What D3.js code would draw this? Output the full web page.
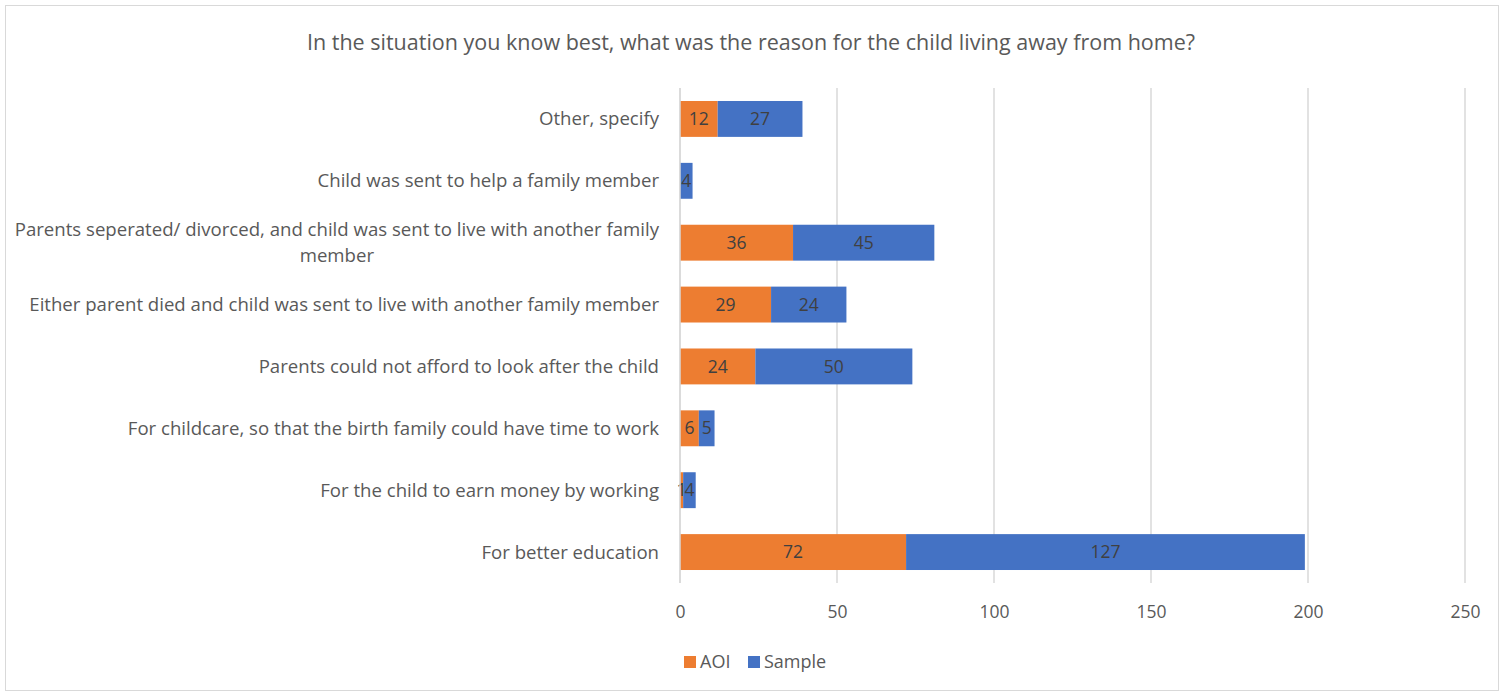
<!DOCTYPE html>
<html>
<head>
<meta charset="utf-8">
<script src="https://cdn.jsdelivr.net/npm/d3@7"></script>
<style>
  html, body { margin: 0; padding: 0; background: #fff; }
  svg { display: block; }
  text { font-family: "Open Sans", "Noto Sans", sans-serif; }
</style>
</head>
<body>
<svg id="chart" width="1504" height="696"></svg>
<script>
const title = "In the situation you know best, what was the reason for the child living away from home?";
const categories = [
  "Other, specify",
  "Child was sent to help a family member",
  "Parents seperated/ divorced, and child was sent to live with another family member",
  "Either parent died and child was sent to live with another family member",
  "Parents could not afford to look after the child",
  "For childcare, so that the birth family could have time to work",
  "For the child to earn money by working",
  "For better education"
];
const aoi =    [12, 0, 36, 29, 24, 6, 1, 72];
const sample = [27, 4, 45, 24, 50, 5, 4, 127];
const seriesNames = ["AOI", "Sample"];
const seriesColors = ["#ED7D31", "#4472C4"];
const xTicks = [0, 50, 100, 150, 200, 250];

const W = 1504, H = 696;
const margin = { left: 680, right: 39, top: 88, bottom: 113 };
const svg = d3.select("#chart");

// chart frame
svg.append("rect").attr("x", 5.5).attr("y", 5.5).attr("width", W - 11).attr("height", H - 11)
  .attr("fill", "#fff").attr("stroke", "#d9d9d9").attr("stroke-width", 1);

const x = d3.scaleLinear().domain([0, 250]).range([margin.left, W - margin.right]);
const y = d3.scaleBand().domain(categories).range([margin.top, H - margin.bottom]).paddingInner(0.42).paddingOuter(0.21);

// vertical gridlines
svg.append("g").selectAll("line").data(xTicks).join("line")
  .attr("x1", d => x(d)).attr("x2", d => x(d))
  .attr("y1", margin.top).attr("y2", H - margin.bottom)
  .attr("stroke", "#d9d9d9").attr("stroke-width", 1.5);

// x axis tick labels
const xAxis = d3.axisBottom(x).tickValues(xTicks).tickSize(0).tickPadding(0);
const gx = svg.append("g").attr("transform", `translate(0,${H - margin.bottom + 29})`).call(xAxis);
gx.select(".domain").remove();
gx.selectAll("text").attr("font-size", 17.5).attr("fill", "#595959").attr("dy", "0.35em");

// stacked data
const rows = categories.map((c, i) => ({ category: c, AOI: aoi[i], Sample: sample[i] }));
const stack = d3.stack().keys(seriesNames)(rows);

const gBars = svg.append("g");
stack.forEach((layer, si) => {
  const g = gBars.append("g");
  g.selectAll("rect").data(layer.filter(d => d[1] > d[0])).join("rect")
    .attr("x", d => x(d[0])).attr("width", d => x(d[1]) - x(d[0]))
    .attr("y", d => y(d.data.category)).attr("height", y.bandwidth())
    .attr("fill", seriesColors[si]);
  g.selectAll("text").data(layer.filter(d => d[1] > d[0])).join("text")
    .attr("x", d => (x(d[0]) + x(d[1])) / 2)
    .attr("y", d => y(d.data.category) + y.bandwidth() / 2)
    .attr("dy", "0.35em").attr("text-anchor", "middle")
    .attr("font-size", 17.5).attr("fill", "#404040")
    .text(d => d[1] - d[0]);
});

// category axis line
svg.append("line").attr("x1", x(0)).attr("x2", x(0))
  .attr("y1", margin.top).attr("y2", H - margin.bottom)
  .attr("stroke", "#d9d9d9").attr("stroke-width", 1.5);

// category labels, wrapped to a max width
const maxLabelW = 662;
const gLab = svg.append("g");
categories.forEach(c => {
  const t = gLab.append("text").attr("font-size", 18.6).attr("fill", "#595959");
  const words = c.split(" ");
  const lines = [];
  let cur = [];
  const probe = t.append("tspan");
  words.forEach(w => {
    const test = cur.concat(w).join(" ");
    probe.text(test);
    if (probe.node().getComputedTextLength() > maxLabelW && cur.length) {
      lines.push(cur.join(" "));
      cur = [w];
    } else cur.push(w);
  });
  lines.push(cur.join(" "));
  probe.remove();
  const lh = 26;
  const cy = y(c) + y.bandwidth() / 2;
  const y0 = cy - (lines.length - 1) * lh / 2;
  if (lines.length === 1) {
    t.attr("x", x(0) - 21).attr("y", cy).attr("dy", "0.35em").attr("text-anchor", "end").text(lines[0]);
  } else {
    // multi-line labels: centred block, right edge at the axis gap
    const widths = lines.map(l => { const s = t.append("tspan").text(l); const w = s.node().getComputedTextLength(); s.remove(); return w; });
    const blockW = d3.max(widths);
    const cx = x(0) - 21 - blockW / 2;
    t.attr("text-anchor", "middle");
    lines.forEach((l, i) => t.append("tspan").attr("x", cx).attr("y", y0 + i * lh).attr("dy", "0.35em").text(l));
  }
});

// title
svg.append("text").attr("x", 751).attr("y", 42).attr("dy", "0.35em").attr("text-anchor", "middle")
  .attr("font-size", 21.5).attr("fill", "#595959").text(title);

// legend
const legend = svg.append("g").attr("transform", "translate(684,662)");
const lx = [0, 64];
seriesNames.forEach((s, i) => {
  legend.append("rect").attr("x", lx[i]).attr("y", -6).attr("width", 12).attr("height", 12).attr("fill", seriesColors[i]);
  legend.append("text").attr("x", lx[i] + 16).attr("y", 0).attr("dy", "0.35em")
    .attr("font-size", 18).attr("fill", "#595959").text(s);
});
</script>
</body>
</html>
